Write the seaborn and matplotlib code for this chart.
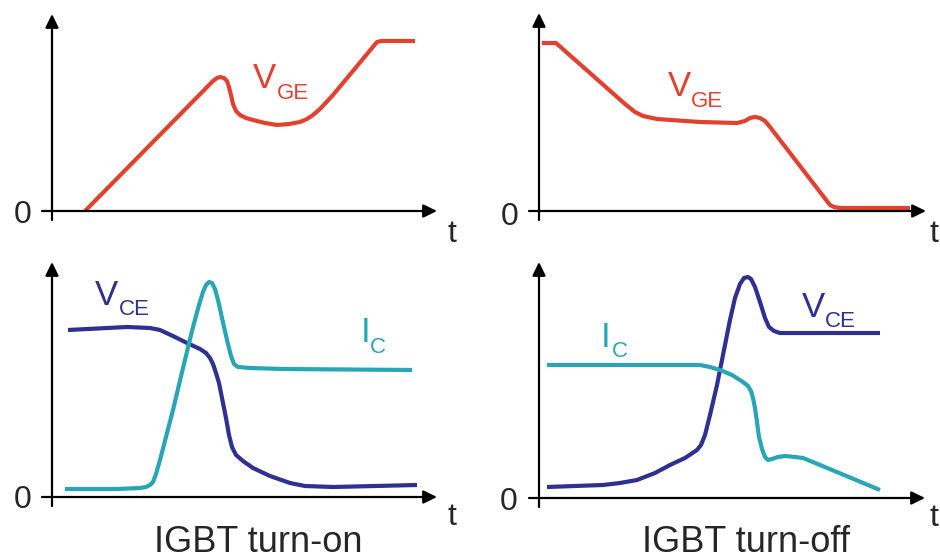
import matplotlib
matplotlib.use("Agg")
import matplotlib.pyplot as plt
import seaborn as sns

# ---------------- data (arbitrary units: time t, amplitude v) ----------------
# Turn-on, gate-emitter voltage
t_vge_on = [33, 161, 165, 168, 172, 175, 177, 179, 181, 184, 188, 194, 201, 213, 225,
            237, 248, 255, 261, 268, 281, 325, 329, 333, 363]
v_vge_on = [0, 130, 133, 134, 133, 130, 124, 116, 107, 100, 96, 93, 91, 88, 86,
            87, 89, 92, 96, 102, 116, 169, 170, 170, 170]

# Turn-off, gate-emitter voltage
t_vge_off = [3, 17, 86, 96, 104, 118, 161, 198, 206, 211, 216, 221, 226, 231, 251,
             291, 295, 301, 371]
v_vge_off = [168, 168, 107, 99, 95, 92, 89, 88, 90, 93, 94, 93, 90, 84, 58,
             6, 4, 3, 3]

# Turn-on, collector-emitter voltage and collector current
t_vce_on = [16, 75, 98, 108, 123, 135, 148, 154, 158, 161, 164, 167, 170, 174, 177,
            180, 184, 191, 201, 218, 238, 253, 281, 365]
v_vce_on = [167, 170, 169, 167, 160, 154, 148, 144, 139, 133, 124, 114, 99, 79, 62,
            50, 42, 36, 29, 21, 14, 11, 10, 12]
t_ic_on = [13, 65, 88, 94, 98, 101, 104, 108, 114, 121, 131, 141, 147, 151, 154,
           157, 160, 163, 166, 170, 175, 179, 182, 186, 198, 231, 360]
v_ic_on = [8, 8, 9, 10, 12, 15, 23, 37, 60, 87, 129, 170, 192, 205, 212,
           215, 214, 208, 197, 179, 157, 141, 133, 130, 129, 128, 127]

# Turn-off, collector-emitter voltage and collector current
t_vce_off = [8, 64, 81, 98, 116, 131, 146, 158, 162, 166, 171, 178, 185, 191, 196,
             201, 205, 209, 212, 216, 221, 226, 230, 235, 241, 341]
v_vce_off = [11, 13, 15, 18, 25, 33, 40, 48, 53, 63, 83, 113, 148, 178, 200,
             214, 220, 221, 219, 211, 196, 180, 171, 167, 165, 165]
t_ic_off = [8, 151, 161, 171, 181, 193, 204, 209, 212, 214, 216, 218, 220, 223, 226,
            229, 233, 239, 246, 256, 264, 281, 341]
v_ic_off = [133, 133, 133, 131, 128, 123, 116, 112, 107, 100, 90, 76, 61, 49, 41,
            38, 39, 41, 42, 41, 40, 33, 8]

titles = ["IGBT turn-on", "IGBT turn-off"]

RED = "#E2412F"
BLUE = "#2E3192"
TEAL = "#29A5B8"

# ---------------- figure ----------------
sns.set_theme(style="white")
plt.rcParams["font.family"] = ["Liberation Sans", "DejaVu Sans"]

W, H = 940, 560
fig = plt.figure(figsize=(9.4, 5.6), dpi=100)
fig.patch.set_facecolor("white")


def make_ax(x0, y0, x1, y1):
    """x0,y0: pixel position of origin; x1: x-arrow tip; y1: y-arrow tip."""
    ax = fig.add_axes([x0 / W, 1 - y0 / H, (x1 - x0) / W, (y0 - y1) / H])
    ax.axis("off")
    xmax, ymax = x1 - x0, y0 - y1
    arrow = dict(arrowstyle="-|>,head_length=0.45,head_width=0.22",
                 mutation_scale=18, lw=1.6, color="black",
                 shrinkA=0, shrinkB=0)
    ax.annotate("", xy=(xmax, 0), xytext=(-10, 0), arrowprops=arrow,
                annotation_clip=False)
    ax.annotate("", xy=(0, ymax), xytext=(0, -9), arrowprops=arrow,
                annotation_clip=False)
    return ax, xmax, ymax


def line(ax, t, v, color):
    sns.lineplot(x=t, y=v, ax=ax, color=color, linewidth=3, sort=False,
                 estimator=None, solid_joinstyle="round", solid_capstyle="butt")


def sublabel(ax, main, sub, pos_main, pos_sub, color):
    ax.text(*pos_main, main, fontsize=25, color=color, ha="left",
            va="baseline", clip_on=False)
    ax.text(*pos_sub, sub, fontsize=16, color=color, ha="left",
            va="baseline", clip_on=False)


def axis_text(ax, zero_pos, t_pos, t_ha="center"):
    ax.text(*zero_pos, "0", fontsize=23, ha="center", va="baseline",
            clip_on=False)
    ax.text(*t_pos, "t", fontsize=23, ha=t_ha, va="baseline", clip_on=False)


def finish(ax, xmax, ymax):
    ax.set_xlim(0, xmax)
    ax.set_ylim(0, ymax)
    ax.axis("off")


# Top-left: turn-on VGE
ax1, xm, ym = make_ax(52, 211, 437, 14)
line(ax1, t_vge_on, v_vge_on, RED)
finish(ax1, xm, ym)
sublabel(ax1, "V", "GE", (201, 123), (225, 112), RED)
axis_text(ax1, (-29, -12), (400, -31))

# Top-right: turn-off VGE
ax2, xm, ym = make_ax(539, 211, 926, 13)
line(ax2, t_vge_off, v_vge_off, RED)
finish(ax2, xm, ym)
sublabel(ax2, "V", "GE", (129, 115), (152, 104), RED)
axis_text(ax2, (-29, -14), (390, -31), t_ha="left")

# Bottom-left: turn-on VCE, IC
ax3, xm, ym = make_ax(52, 497, 437, 262)
line(ax3, t_vce_on, v_vce_on, BLUE)
line(ax3, t_ic_on, v_ic_on, TEAL)
finish(ax3, xm, ym)
sublabel(ax3, "V", "CE", (43, 192), (67, 182), BLUE)
sublabel(ax3, "I", "C", (309, 155), (318, 144), TEAL)
axis_text(ax3, (-29, -11), (400, -28))
ax3.text(206, -55, titles[0], fontsize=26, ha="center", va="baseline",
         clip_on=False)

# Bottom-right: turn-off VCE, IC
ax4, xm, ym = make_ax(539, 498, 925, 262)
line(ax4, t_vce_off, v_vce_off, BLUE)
line(ax4, t_ic_off, v_ic_off, TEAL)
finish(ax4, xm, ym)
sublabel(ax4, "V", "CE", (263, 181), (286, 171), BLUE)
sublabel(ax4, "I", "C", (62, 151), (73, 141), TEAL)
axis_text(ax4, (-30, -12), (390, -28), t_ha="left")
ax4.text(207, -54, titles[1], fontsize=26, ha="center", va="baseline",
         clip_on=False)

fig.savefig("out.png", dpi=100, facecolor="white")
